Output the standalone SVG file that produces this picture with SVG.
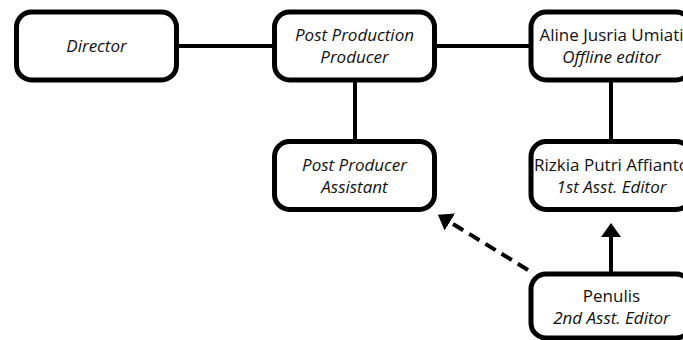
<svg xmlns="http://www.w3.org/2000/svg" width="683" height="340" viewBox="0 0 683 340">
  <style>
    .box { fill: #ffffff; stroke: #000000; stroke-width: 5; }
    .t { font-family: "Open Sans", "Liberation Sans", sans-serif; font-size: 17px; fill: #111111; text-anchor: middle; }
    .i { font-style: italic; }
    .conn { stroke: #000000; stroke-width: 4; fill: none; }
    .dash { stroke-dasharray: 12 7; }
  </style>
  <defs>
    <marker id="arrow" viewBox="0 0 14 20" refX="1" refY="10" markerWidth="14" markerHeight="20" markerUnits="userSpaceOnUse" orient="auto">
      <path d="M0,0 L14,10 L0,20 Z" fill="#000000"/>
    </marker>
  </defs>
  <rect width="683" height="340" fill="#ffffff"/>

  <g id="connectors">
    <line class="conn" x1="179" y1="46" x2="272" y2="46"/>
    <line class="conn" x1="437" y1="46" x2="529" y2="46"/>
    <line class="conn" x1="355" y1="82" x2="355" y2="140"/>
    <line class="conn" x1="611" y1="82" x2="611" y2="140"/>
    <line class="conn" x1="611" y1="272" x2="611" y2="236" marker-end="url(#arrow)"/>
    <line class="conn dash" x1="528" y1="270" x2="449" y2="221.5" marker-end="url(#arrow)"/>
  </g>

  <g id="director">
    <rect class="box" x="16.5" y="12" width="160" height="68" rx="15"/>
    <text class="t i" x="96.5" y="52">Director</text>
  </g>
  <g id="post-production-producer">
    <rect class="box" x="274.5" y="12" width="160" height="68" rx="15"/>
    <text class="t i" x="354.5" y="41">Post Production</text>
    <text class="t i" x="354.5" y="63">Producer</text>
  </g>
  <g id="offline-editor">
    <rect class="box" x="531" y="12" width="160" height="68" rx="15"/>
    <text class="t" x="611.5" y="41">Aline Jusria Umiati</text>
    <text class="t i" x="611.5" y="63">Offline editor</text>
  </g>
  <g id="post-producer-assistant">
    <rect class="box" x="274.5" y="141.5" width="160" height="68" rx="15"/>
    <text class="t i" x="354.5" y="171">Post Producer</text>
    <text class="t i" x="354.5" y="193">Assistant</text>
  </g>
  <g id="first-asst-editor">
    <rect class="box" x="531" y="141.5" width="160" height="68" rx="15"/>
    <text class="t" x="611.5" y="171">Rizkia Putri Affianto</text>
    <text class="t i" x="611.5" y="193">1st Asst. Editor</text>
  </g>
  <g id="second-asst-editor">
    <rect class="box" x="531" y="274" width="160" height="64" rx="15"/>
    <text class="t" x="611.5" y="302">Penulis</text>
    <text class="t i" x="611.5" y="324">2nd Asst. Editor</text>
  </g>
</svg>
